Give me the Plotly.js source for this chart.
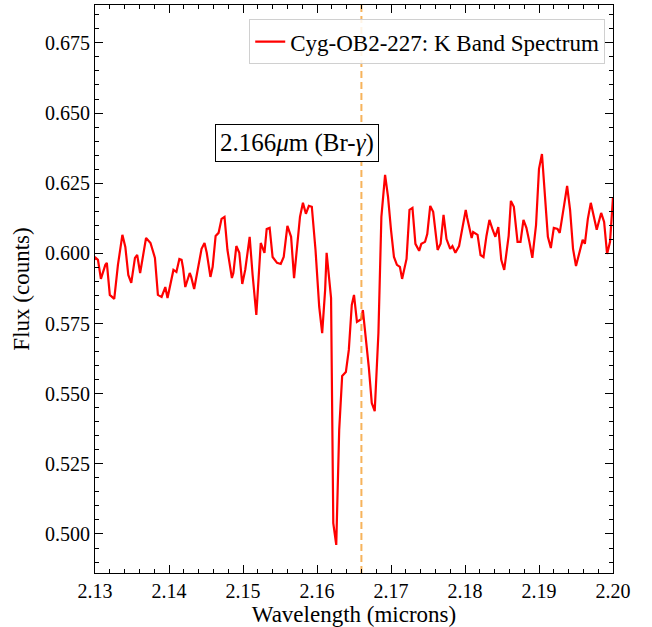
<!DOCTYPE html>
<html>
<head>
<meta charset="utf-8">
<script src="https://cdn.plot.ly/plotly-3.0.1.min.js"></script>
<style>
  html, body { margin: 0; padding: 0; background: #fff; }
  #chart { width: 652px; height: 627px; }
</style>
</head>
<body>
<div id="chart"></div>
<script>
// Wavelength (microns)
const wavelength = [
  2.1300, 2.1301, 2.1304, 2.1308, 2.1314, 2.1316, 2.1320, 2.1326, 2.1331, 2.1337,
  2.1341, 2.1345, 2.1349, 2.1354, 2.1357, 2.1361, 2.1369, 2.1375, 2.1381, 2.1385,
  2.1390, 2.1395, 2.1398, 2.1402, 2.1406, 2.1410, 2.1414, 2.1417, 2.1419, 2.1422,
  2.1428, 2.1430, 2.1434, 2.1438, 2.1444, 2.1448, 2.1451, 2.1456, 2.1459, 2.1463,
  2.1467, 2.1471, 2.1475, 2.1479, 2.1485, 2.1487, 2.1491, 2.1495, 2.1499, 2.1503,
  2.1509, 2.1513, 2.1518, 2.1524, 2.1529, 2.1532, 2.1536, 2.1540, 2.1546, 2.1551,
  2.1555, 2.1560, 2.1565, 2.1569, 2.1573, 2.1577, 2.1581, 2.1585, 2.1589, 2.1593,
  2.1598, 2.1603, 2.1607, 2.1611, 2.1613, 2.1619, 2.1622, 2.1626, 2.1630, 2.1634,
  2.1639, 2.1643, 2.1647, 2.1650, 2.1654, 2.1660, 2.1662, 2.1666, 2.1670, 2.1674,
  2.1678, 2.1683, 2.1687, 2.1692, 2.1696, 2.1700, 2.1704, 2.1708, 2.1712, 2.1715,
  2.1721, 2.1725, 2.1729, 2.1733, 2.1738, 2.1741, 2.1746, 2.1749, 2.1753, 2.1757,
  2.1763, 2.1767, 2.1771, 2.1775, 2.1780, 2.1783, 2.1787, 2.1792, 2.1795, 2.1801,
  2.1803, 2.1809, 2.1811, 2.1817, 2.1821, 2.1825, 2.1829, 2.1833, 2.1837, 2.1841,
  2.1845, 2.1849, 2.1853, 2.1859, 2.1862, 2.1866, 2.1871, 2.1875, 2.1879, 2.1883,
  2.1887, 2.1891, 2.1896, 2.1900, 2.1904, 2.1908, 2.1912, 2.1916, 2.1920, 2.1925,
  2.1928, 2.1934, 2.1938, 2.1942, 2.1946, 2.1950, 2.1955, 2.1959, 2.1962, 2.1966,
  2.1970, 2.1976, 2.1978, 2.1984, 2.1988, 2.1992, 2.1996, 2.2000
];
// Flux (counts)
const flux = [
  0.5977, 0.5984, 0.5977, 0.5909, 0.5959, 0.5966, 0.5852, 0.5838, 0.5959, 0.6066,
  0.6023, 0.5923, 0.5895, 0.5984, 0.5994, 0.5930, 0.6055, 0.6037, 0.5984, 0.5852,
  0.5845, 0.5880, 0.5841, 0.5898, 0.5941, 0.5934, 0.5980, 0.5977, 0.5948, 0.5880,
  0.5930, 0.5916, 0.5873, 0.5930, 0.6016, 0.6037, 0.6002, 0.5916, 0.5952, 0.6062,
  0.6073, 0.6123, 0.6130, 0.6012, 0.5912, 0.5930, 0.6026, 0.6002, 0.5891, 0.5941,
  0.6059, 0.5923, 0.5781, 0.6037, 0.6002, 0.6087, 0.6091, 0.5987, 0.5966, 0.5962,
  0.5987, 0.6098, 0.6059, 0.5912, 0.6019, 0.6130, 0.6180, 0.6141, 0.6169, 0.6166,
  0.6012, 0.5809, 0.5716, 0.5870, 0.6002, 0.5841, 0.5039, 0.4961, 0.5371, 0.5563,
  0.5577, 0.5656, 0.5816, 0.5852, 0.5756, 0.5766, 0.5798, 0.5702, 0.5595, 0.5467,
  0.5438, 0.5716, 0.6130, 0.6280, 0.6201, 0.6084, 0.5987, 0.5959, 0.5952, 0.5909,
  0.5980, 0.6155, 0.6162, 0.6034, 0.6009, 0.6034, 0.6041, 0.6069, 0.6169, 0.6148,
  0.6012, 0.6034, 0.6137, 0.6051, 0.6016, 0.6026, 0.6002, 0.6026, 0.6066, 0.6155,
  0.6126, 0.6055, 0.6076, 0.6066, 0.5994, 0.5987, 0.6062, 0.6119, 0.6087, 0.6059,
  0.6094, 0.5977, 0.5941, 0.6062, 0.6187, 0.6166, 0.6041, 0.6041, 0.6119, 0.6091,
  0.6041, 0.5984, 0.6101, 0.6301, 0.6354, 0.6208, 0.6059, 0.6019, 0.6091, 0.6087,
  0.6073, 0.6173, 0.6240, 0.6155, 0.6016, 0.5955, 0.6005, 0.6048, 0.6034, 0.6123,
  0.6180, 0.6112, 0.6084, 0.6144, 0.6112, 0.5998, 0.6041, 0.6201
];
const brGammaLine = 2.166;
const seriesName = 'Cyg-OB2-227: K Band Spectrum';
const annotationText = '2.166<i>μ</i>m (Br-<i>γ</i>)';
const annotationPos = [2.1573, 0.6394];
const xRange = [2.13, 2.20];
const yRange = [0.4861, 0.6885];

const serif = 'Liberation Serif';

const traces = [
  {
    x: wavelength,
    y: flux,
    type: 'scatter',
    mode: 'lines',
    name: seriesName,
    line: { color: '#ff0000', width: 2.2 },
    showlegend: true
  },
  {
    x: [brGammaLine, brGammaLine],
    y: yRange,
    type: 'scatter',
    mode: 'lines',
    name: 'Br-γ',
    line: { color: 'rgba(245,160,50,0.8)', width: 2, dash: '7px,4px' },
    showlegend: false,
    hoverinfo: 'skip'
  }
];

const layout = {
  width: 652,
  height: 627,
  margin: { l: 95, r: 39, t: 5, b: 54 },
  font: { family: serif, size: 20 },
  showlegend: true,
  legend: {
    x: 0.985, y: 0.975, xanchor: 'right', yanchor: 'top',
    bgcolor: 'rgba(255,255,255,0.85)',
    bordercolor: '#d0d0d0', borderwidth: 1,
    font: { family: serif, size: 23, color: 'black' }
  },
  xaxis: {
    range: xRange,
    dtick: 0.01, tickformat: '.2f',
    ticks: 'inside', ticklen: 8, tickwidth: 1, tickcolor: 'black',
    showline: true, linecolor: 'black', mirror: 'allticks',
    showgrid: false, zeroline: false,
    tickfont: { family: serif, size: 20, color: 'black' },
    minor: { dtick: 0.002, ticks: 'inside', ticklen: 4, tickwidth: 1, tickcolor: 'black' },
    title: { text: 'Wavelength (microns)', font: { family: serif, size: 23, color: 'black' }, standoff: 4 }
  },
  yaxis: {
    range: yRange,
    dtick: 0.025, tickformat: '.3f',
    ticks: 'inside', ticklen: 8, tickwidth: 1, tickcolor: 'black',
    showline: true, linecolor: 'black', mirror: 'allticks',
    showgrid: false, zeroline: false,
    tickfont: { family: serif, size: 20, color: 'black' },
    minor: { dtick: 0.005, ticks: 'inside', ticklen: 4, tickwidth: 1, tickcolor: 'black' },
    title: { text: 'Flux (counts)', font: { family: serif, size: 23, color: 'black' }, standoff: 8 }
  }
};

const annotations = [{
  x: annotationPos[0], y: annotationPos[1], xref: 'x', yref: 'y',
  xanchor: 'center', yanchor: 'middle',
  text: annotationText, showarrow: false,
  font: { family: serif, size: 25, color: 'black' },
  bgcolor: 'white', bordercolor: 'black', borderwidth: 1, borderpad: 4
}];

Plotly.newPlot('chart', traces, layout, { displayModeBar: false }).then(gd => {
  return Plotly.relayout(gd, { annotations: annotations });
});
</script>
</body>
</html>
